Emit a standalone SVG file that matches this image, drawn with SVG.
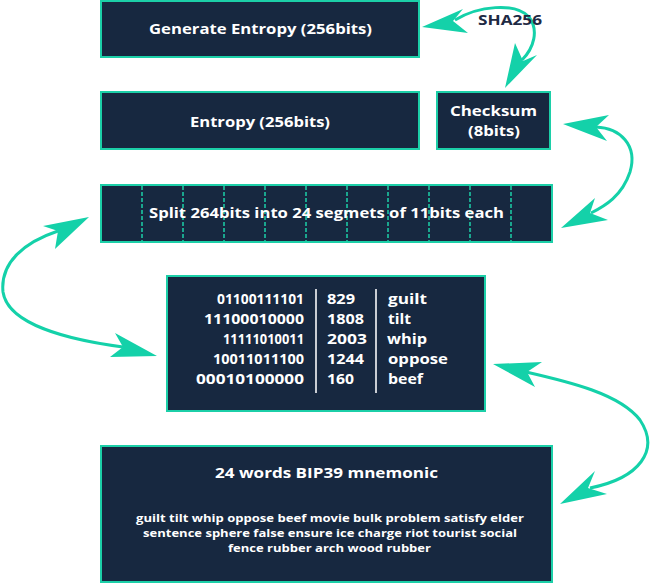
<svg xmlns="http://www.w3.org/2000/svg" width="650" height="584" viewBox="0 0 650 584">
<style>
.box{fill:#172840;stroke:#1ccfa8;stroke-width:2}
.t{font-family:"Open Sans","Liberation Sans",sans-serif;font-weight:700;fill:#ffffff}
.c{text-anchor:middle}
.seg{stroke:#1ccfa8;stroke-width:1.5;stroke-dasharray:4 2}
.vl{stroke:#c9cdd3;stroke-width:2}
.arc{fill:none;stroke:#14d1a9;stroke-width:3}
.head{fill:#14d1a9}
</style>
<rect width="650" height="584" fill="#ffffff"/>
<g id="gen">
<rect class="box" x="101" y="1" width="318" height="56"/>
<text class="t c" x="260.5" y="34" font-size="15" textLength="223" lengthAdjust="spacingAndGlyphs">Generate Entropy (256bits)</text>
</g>
<g id="entropy">
<rect class="box" x="101" y="92" width="318" height="57"/>
<text class="t c" x="260" y="127" font-size="15" textLength="140" lengthAdjust="spacingAndGlyphs">Entropy (256bits)</text>
</g>
<g id="checksum">
<rect class="box" x="437" y="92" width="113" height="57"/>
<text class="t c" x="493.5" y="116" font-size="15" textLength="87" lengthAdjust="spacingAndGlyphs">Checksum</text>
<text class="t c" x="494" y="136" font-size="15" textLength="52" lengthAdjust="spacingAndGlyphs">(8bits)</text>
</g>
<g id="split">
<rect class="box" x="101" y="185" width="451" height="57"/>
<g class="seg">
<line x1="142" y1="186" x2="142" y2="241"/>
<line x1="183" y1="186" x2="183" y2="241"/>
<line x1="224" y1="186" x2="224" y2="241"/>
<line x1="265" y1="186" x2="265" y2="241"/>
<line x1="306" y1="186" x2="306" y2="241"/>
<line x1="347" y1="186" x2="347" y2="241"/>
<line x1="388" y1="186" x2="388" y2="241"/>
<line x1="429" y1="186" x2="429" y2="241"/>
<line x1="470" y1="186" x2="470" y2="241"/>
<line x1="511" y1="186" x2="511" y2="241"/>
</g>
<text class="t c" x="326.5" y="218" font-size="15" textLength="355" lengthAdjust="spacingAndGlyphs">Split 264bits into 24 segmets of 11bits each</text>
</g>
<g id="table">
<rect class="box" x="167" y="276" width="318" height="135"/>
<line class="vl" x1="316" y1="289" x2="316" y2="393"/>
<line class="vl" x1="376" y1="289" x2="376" y2="393"/>
<g class="t" font-size="15">
<text x="217" y="304" textLength="87" lengthAdjust="spacingAndGlyphs">01100111101</text>
<text x="204" y="324" textLength="100" lengthAdjust="spacingAndGlyphs">11100010000</text>
<text x="223" y="344" textLength="81" lengthAdjust="spacingAndGlyphs">11111010011</text>
<text x="213" y="364" textLength="91" lengthAdjust="spacingAndGlyphs">10011011100</text>
<text x="196" y="384" textLength="108" lengthAdjust="spacingAndGlyphs">00010100000</text>
<text x="327" y="304" textLength="28" lengthAdjust="spacingAndGlyphs">829</text>
<text x="327" y="324" textLength="37" lengthAdjust="spacingAndGlyphs">1808</text>
<text x="327" y="344" textLength="40" lengthAdjust="spacingAndGlyphs">2003</text>
<text x="327" y="364" textLength="37" lengthAdjust="spacingAndGlyphs">1244</text>
<text x="327" y="384" textLength="27" lengthAdjust="spacingAndGlyphs">160</text>
<text x="388" y="304" textLength="39" lengthAdjust="spacingAndGlyphs">guilt</text>
<text x="388" y="324" textLength="23" lengthAdjust="spacingAndGlyphs">tilt</text>
<text x="387" y="344" textLength="40" lengthAdjust="spacingAndGlyphs">whip</text>
<text x="388" y="364" textLength="60" lengthAdjust="spacingAndGlyphs">oppose</text>
<text x="388" y="384" textLength="35" lengthAdjust="spacingAndGlyphs">beef</text>
</g>
</g>
<g id="mnemonic">
<rect class="box" x="101" y="446" width="451" height="136"/>
<text class="t c" x="326.5" y="478" font-size="15" textLength="223" lengthAdjust="spacingAndGlyphs">24 words BIP39 mnemonic</text>
<text class="t c" x="330" y="522" font-size="11" textLength="388" lengthAdjust="spacingAndGlyphs">guilt tilt whip oppose beef movie bulk problem satisfy elder</text>
<text class="t c" x="330" y="537" font-size="11" textLength="374" lengthAdjust="spacingAndGlyphs">sentence sphere false ensure ice charge riot tourist social</text>
<text class="t c" x="329.5" y="552" font-size="11" textLength="203" lengthAdjust="spacingAndGlyphs">fence rubber arch wood rubber</text>
</g>
<g id="connectors">
<path class="arc" d="M455,20 C478,6 515,2 529,17 C539,30 534,48 522,60"/>
<polygon class="head" points="422,27 463,9 453,21 468,33"/>
<polygon class="head" points="505,88 515,43 523,61 537,55"/>
<path class="arc" d="M596,127 C620,128 638,145 630,172 C622,196 605,206 591,213"/>
<polygon class="head" points="563,124 609,115 596,127 607,141"/>
<polygon class="head" points="561,228 595,198 590,213 608,220"/>
<path class="arc" d="M58,231 C25,242 0,262 3,292 C8,325 70,340 123,347"/>
<polygon class="head" points="89,217 43,226 58,231 55,249"/>
<polygon class="head" points="157,356 115,333 123,347 110,357"/>
<path class="arc" d="M526,372 C570,382 620,394 640,420 C660,450 640,478 590,488"/>
<polygon class="head" points="493,364 542,362 527,372 535,387"/>
<polygon class="head" points="560,504 595,471 588,488 607,494"/>
</g>
<text id="sha" x="478" y="25" font-family="'Open Sans','Liberation Sans',sans-serif" font-weight="700" font-size="15" fill="#1e2a44" textLength="64" lengthAdjust="spacingAndGlyphs">SHA256</text>
</svg>
